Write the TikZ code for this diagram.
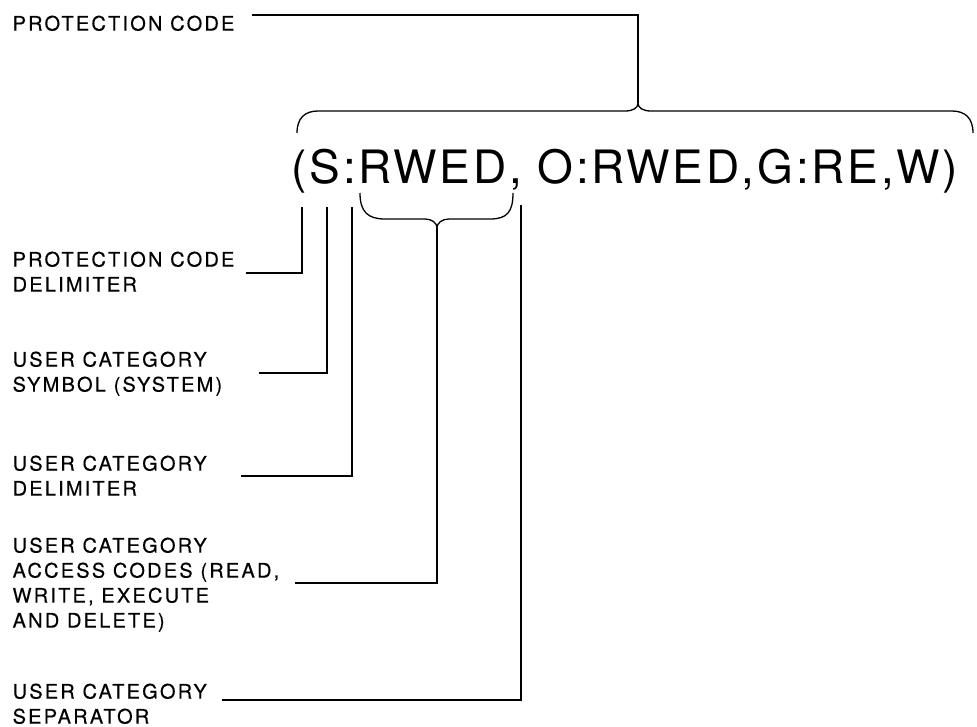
\documentclass[tikz,border=0pt]{standalone}
\usepackage{fontspec}
\setmainfont{TeX Gyre Heros}
\usetikzlibrary{positioning}

\begin{document}
\begin{tikzpicture}[x=1pt, y=-1pt, line width=1.3pt,
  lbl/.style={anchor=north west, inner sep=0pt, align=left,
    font=\fontsize{20}{25}\selectfont\addfontfeatures{LetterSpace=11,FakeBold=0.4}},
  code/.style={anchor=base west, inner sep=0pt,
    font=\fontsize{46}{50}\selectfont\addfontfeatures{LetterSpace=6}}]
  \useasboundingbox (0,0) rectangle (977,726);
  \node[code] (prot) at (291,183) {(S:RWED, O:RWED,G:RE,W)};
  \node[lbl] (pc) at (12,15) {PROTECTION CODE};
  \node[lbl] (pcd) at (12,251) {PROTECTION CODE\\DELIMITER};
  \node[lbl] (ucs) at (12,351) {USER CATEGORY\\SYMBOL (SYSTEM)};
  \node[lbl] (ucd) at (12,455) {USER CATEGORY\\DELIMITER};
  \node[lbl] (uca) at (12,537) {USER CATEGORY\\ACCESS CODES (READ,\\WRITE, EXECUTE\\AND DELETE)};
  \node[lbl] (usep) at (12,683) {USER CATEGORY\\SEPARATOR};
  \coordinate (allTip) at (638,103);
  \coordinate (cParen) at (302,207);
  \coordinate (cSym) at (327,207);
  \coordinate (cColon) at (352,207);
  \coordinate (rwedTip) at (437,228);
  \coordinate (cComma) at (521,205);
  \draw (297,133) .. controls (297,118) and (305,111) .. (318,111) -- (625,111)
    .. controls (633,111) and (638,108) .. (allTip)
    .. controls (638,108) and (643,111) .. (651,111) -- (952,111)
    .. controls (965,111) and (973,118) .. (973,133);
  \draw (360,193) .. controls (360,212) and (368,219) .. (385,219) -- (425,219)
    .. controls (432,219) and (437,223) .. (rwedTip)
    .. controls (437,223) and (442,219) .. (449,219) -- (490,219)
    .. controls (507,219) and (513,212) .. (513,193);
  \draw ([xshift=17pt]pc.north east) -| (allTip);
  \draw (cParen) |- ([xshift=11pt,yshift=-22pt]pcd.north east);
  \draw (cSym) |- ([xshift=36pt,yshift=-22pt]ucs.north east);
  \draw (cColon) |- ([xshift=34pt,yshift=-21pt]ucd.north east);
  \draw (rwedTip) |- ([xshift=15pt,yshift=-46pt]uca.north east);
  \draw (cComma) |- ([xshift=15pt,yshift=-17pt]usep.north east);
\end{tikzpicture}
\end{document}
